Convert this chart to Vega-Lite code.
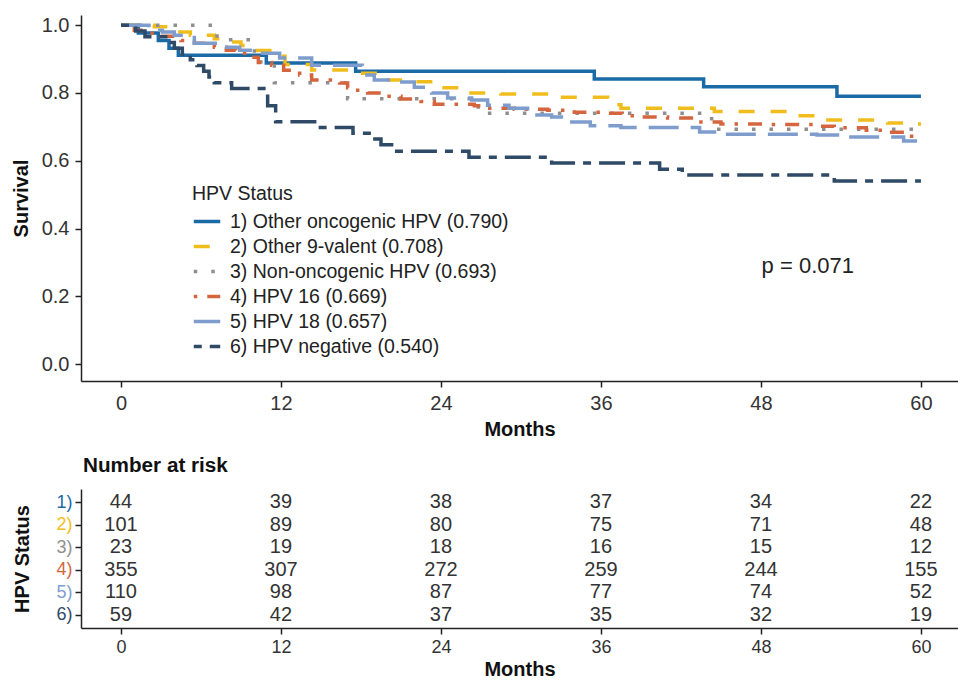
{
  "$schema": "https://vega.github.io/schema/vega-lite/v6.json",
  "padding": {"left": 11, "top": 15, "right": 0, "bottom": 0},
  "autosize": {"type": "pad"},
  "background": "white",
  "bounds": "flush",
  "spacing": 108,
  "config": {
    "font": "Liberation Sans",
    "view": {"stroke": null},
    "axis": {"grid": false, "domainColor": "#222", "tickColor": "#222", "labelColor": "#333", "titleColor": "#111", "labelFont": "Liberation Sans", "titleFont": "Liberation Sans", "domainWidth": 1.5, "tickWidth": 1.5}
  },
  "datasets": {
    "curves": [
      {"g": "1) Other oncogenic HPV (0.790)", "t": 0, "s": 1.0},
      {"g": "1) Other oncogenic HPV (0.790)", "t": 1.3, "s": 0.977},
      {"g": "1) Other oncogenic HPV (0.790)", "t": 2.8, "s": 0.955},
      {"g": "1) Other oncogenic HPV (0.790)", "t": 3.6, "s": 0.932},
      {"g": "1) Other oncogenic HPV (0.790)", "t": 4.3, "s": 0.911},
      {"g": "1) Other oncogenic HPV (0.790)", "t": 10.9, "s": 0.888},
      {"g": "1) Other oncogenic HPV (0.790)", "t": 17.6, "s": 0.864},
      {"g": "1) Other oncogenic HPV (0.790)", "t": 35.5, "s": 0.841},
      {"g": "1) Other oncogenic HPV (0.790)", "t": 43.7, "s": 0.818},
      {"g": "1) Other oncogenic HPV (0.790)", "t": 53.7, "s": 0.79},
      {"g": "1) Other oncogenic HPV (0.790)", "t": 60, "s": 0.79},

      {"g": "2) Other 9-valent (0.708)", "t": 0, "s": 1.0},
      {"g": "2) Other 9-valent (0.708)", "t": 2.5, "s": 0.995},
      {"g": "2) Other 9-valent (0.708)", "t": 4.2, "s": 0.98},
      {"g": "2) Other 9-valent (0.708)", "t": 5.2, "s": 0.97},
      {"g": "2) Other 9-valent (0.708)", "t": 7.0, "s": 0.96},
      {"g": "2) Other 9-valent (0.708)", "t": 7.9, "s": 0.95},
      {"g": "2) Other 9-valent (0.708)", "t": 9.0, "s": 0.94},
      {"g": "2) Other 9-valent (0.708)", "t": 9.8, "s": 0.925},
      {"g": "2) Other 9-valent (0.708)", "t": 11.5, "s": 0.908},
      {"g": "2) Other 9-valent (0.708)", "t": 12.3, "s": 0.884},
      {"g": "2) Other 9-valent (0.708)", "t": 14.3, "s": 0.868},
      {"g": "2) Other 9-valent (0.708)", "t": 16.9, "s": 0.858},
      {"g": "2) Other 9-valent (0.708)", "t": 19.4, "s": 0.838},
      {"g": "2) Other 9-valent (0.708)", "t": 21.5, "s": 0.833},
      {"g": "2) Other 9-valent (0.708)", "t": 23.5, "s": 0.815},
      {"g": "2) Other 9-valent (0.708)", "t": 25.8, "s": 0.8},
      {"g": "2) Other 9-valent (0.708)", "t": 28.5, "s": 0.797},
      {"g": "2) Other 9-valent (0.708)", "t": 32.5, "s": 0.787},
      {"g": "2) Other 9-valent (0.708)", "t": 36.5, "s": 0.765},
      {"g": "2) Other 9-valent (0.708)", "t": 37.5, "s": 0.755},
      {"g": "2) Other 9-valent (0.708)", "t": 44.5, "s": 0.745},
      {"g": "2) Other 9-valent (0.708)", "t": 50.8, "s": 0.733},
      {"g": "2) Other 9-valent (0.708)", "t": 52.2, "s": 0.72},
      {"g": "2) Other 9-valent (0.708)", "t": 57.5, "s": 0.711},
      {"g": "2) Other 9-valent (0.708)", "t": 59.5, "s": 0.708},
      {"g": "2) Other 9-valent (0.708)", "t": 60, "s": 0.708},

      {"g": "3) Non-oncogenic HPV (0.693)", "t": 0, "s": 1.0},
      {"g": "3) Non-oncogenic HPV (0.693)", "t": 7.2, "s": 0.957},
      {"g": "3) Non-oncogenic HPV (0.693)", "t": 10.0, "s": 0.891},
      {"g": "3) Non-oncogenic HPV (0.693)", "t": 11.5, "s": 0.83},
      {"g": "3) Non-oncogenic HPV (0.693)", "t": 17.0, "s": 0.783},
      {"g": "3) Non-oncogenic HPV (0.693)", "t": 26.8, "s": 0.74},
      {"g": "3) Non-oncogenic HPV (0.693)", "t": 44.3, "s": 0.693},
      {"g": "3) Non-oncogenic HPV (0.693)", "t": 60, "s": 0.693},

      {"g": "4) HPV 16 (0.669)", "t": 0, "s": 1.0},
      {"g": "4) HPV 16 (0.669)", "t": 1.0, "s": 0.985},
      {"g": "4) HPV 16 (0.669)", "t": 1.5, "s": 0.976},
      {"g": "4) HPV 16 (0.669)", "t": 3.0, "s": 0.967},
      {"g": "4) HPV 16 (0.669)", "t": 4.0, "s": 0.96},
      {"g": "4) HPV 16 (0.669)", "t": 4.5, "s": 0.955},
      {"g": "4) HPV 16 (0.669)", "t": 5.5, "s": 0.947},
      {"g": "4) HPV 16 (0.669)", "t": 7.0, "s": 0.935},
      {"g": "4) HPV 16 (0.669)", "t": 7.9, "s": 0.926},
      {"g": "4) HPV 16 (0.669)", "t": 8.6, "s": 0.917},
      {"g": "4) HPV 16 (0.669)", "t": 9.5, "s": 0.905},
      {"g": "4) HPV 16 (0.669)", "t": 10.3, "s": 0.89},
      {"g": "4) HPV 16 (0.669)", "t": 11.3, "s": 0.882},
      {"g": "4) HPV 16 (0.669)", "t": 12.2, "s": 0.867},
      {"g": "4) HPV 16 (0.669)", "t": 13.4, "s": 0.853},
      {"g": "4) HPV 16 (0.669)", "t": 14.3, "s": 0.838},
      {"g": "4) HPV 16 (0.669)", "t": 16.4, "s": 0.829},
      {"g": "4) HPV 16 (0.669)", "t": 17.0, "s": 0.815},
      {"g": "4) HPV 16 (0.669)", "t": 17.5, "s": 0.808},
      {"g": "4) HPV 16 (0.669)", "t": 18.5, "s": 0.8},
      {"g": "4) HPV 16 (0.669)", "t": 19.5, "s": 0.79},
      {"g": "4) HPV 16 (0.669)", "t": 21.0, "s": 0.782},
      {"g": "4) HPV 16 (0.669)", "t": 22.5, "s": 0.775},
      {"g": "4) HPV 16 (0.669)", "t": 23.5, "s": 0.767},
      {"g": "4) HPV 16 (0.669)", "t": 26.5, "s": 0.762},
      {"g": "4) HPV 16 (0.669)", "t": 27.5, "s": 0.755},
      {"g": "4) HPV 16 (0.669)", "t": 29.5, "s": 0.752},
      {"g": "4) HPV 16 (0.669)", "t": 32.0, "s": 0.749},
      {"g": "4) HPV 16 (0.669)", "t": 34.0, "s": 0.743},
      {"g": "4) HPV 16 (0.669)", "t": 36.5, "s": 0.74},
      {"g": "4) HPV 16 (0.669)", "t": 37.6, "s": 0.733},
      {"g": "4) HPV 16 (0.669)", "t": 38.5, "s": 0.729},
      {"g": "4) HPV 16 (0.669)", "t": 41.0, "s": 0.726},
      {"g": "4) HPV 16 (0.669)", "t": 43.5, "s": 0.714},
      {"g": "4) HPV 16 (0.669)", "t": 45.0, "s": 0.708},
      {"g": "4) HPV 16 (0.669)", "t": 48.5, "s": 0.707},
      {"g": "4) HPV 16 (0.669)", "t": 52.4, "s": 0.702},
      {"g": "4) HPV 16 (0.669)", "t": 53.5, "s": 0.697},
      {"g": "4) HPV 16 (0.669)", "t": 55.9, "s": 0.69},
      {"g": "4) HPV 16 (0.669)", "t": 57.1, "s": 0.684},
      {"g": "4) HPV 16 (0.669)", "t": 59.0, "s": 0.672},
      {"g": "4) HPV 16 (0.669)", "t": 60, "s": 0.669},

      {"g": "5) HPV 18 (0.657)", "t": 0, "s": 1.0},
      {"g": "5) HPV 18 (0.657)", "t": 2.1, "s": 0.985},
      {"g": "5) HPV 18 (0.657)", "t": 3.1, "s": 0.98},
      {"g": "5) HPV 18 (0.657)", "t": 4.0, "s": 0.97},
      {"g": "5) HPV 18 (0.657)", "t": 5.5, "s": 0.947},
      {"g": "5) HPV 18 (0.657)", "t": 7.5, "s": 0.935},
      {"g": "5) HPV 18 (0.657)", "t": 8.9, "s": 0.926},
      {"g": "5) HPV 18 (0.657)", "t": 10.0, "s": 0.917},
      {"g": "5) HPV 18 (0.657)", "t": 11.9, "s": 0.903},
      {"g": "5) HPV 18 (0.657)", "t": 14.3, "s": 0.882},
      {"g": "5) HPV 18 (0.657)", "t": 18.1, "s": 0.853},
      {"g": "5) HPV 18 (0.657)", "t": 19.0, "s": 0.838},
      {"g": "5) HPV 18 (0.657)", "t": 20.5, "s": 0.832},
      {"g": "5) HPV 18 (0.657)", "t": 22.0, "s": 0.817},
      {"g": "5) HPV 18 (0.657)", "t": 23.3, "s": 0.8},
      {"g": "5) HPV 18 (0.657)", "t": 24.5, "s": 0.785},
      {"g": "5) HPV 18 (0.657)", "t": 26.3, "s": 0.779},
      {"g": "5) HPV 18 (0.657)", "t": 27.5, "s": 0.764},
      {"g": "5) HPV 18 (0.657)", "t": 29.1, "s": 0.755},
      {"g": "5) HPV 18 (0.657)", "t": 30.5, "s": 0.735},
      {"g": "5) HPV 18 (0.657)", "t": 32.3, "s": 0.729},
      {"g": "5) HPV 18 (0.657)", "t": 33.5, "s": 0.714},
      {"g": "5) HPV 18 (0.657)", "t": 35.2, "s": 0.703},
      {"g": "5) HPV 18 (0.657)", "t": 37.5, "s": 0.698},
      {"g": "5) HPV 18 (0.657)", "t": 43.4, "s": 0.685},
      {"g": "5) HPV 18 (0.657)", "t": 45.1, "s": 0.678},
      {"g": "5) HPV 18 (0.657)", "t": 52.2, "s": 0.676},
      {"g": "5) HPV 18 (0.657)", "t": 54.0, "s": 0.67},
      {"g": "5) HPV 18 (0.657)", "t": 58.7, "s": 0.658},
      {"g": "5) HPV 18 (0.657)", "t": 60, "s": 0.657},

      {"g": "6) HPV negative (0.540)", "t": 0, "s": 1.0},
      {"g": "6) HPV negative (0.540)", "t": 1.1, "s": 0.983},
      {"g": "6) HPV negative (0.540)", "t": 1.8, "s": 0.966},
      {"g": "6) HPV negative (0.540)", "t": 3.6, "s": 0.949},
      {"g": "6) HPV negative (0.540)", "t": 4.0, "s": 0.932},
      {"g": "6) HPV negative (0.540)", "t": 4.6, "s": 0.915},
      {"g": "6) HPV negative (0.540)", "t": 5.2, "s": 0.898},
      {"g": "6) HPV negative (0.540)", "t": 5.7, "s": 0.881},
      {"g": "6) HPV negative (0.540)", "t": 6.2, "s": 0.864},
      {"g": "6) HPV negative (0.540)", "t": 6.6, "s": 0.847},
      {"g": "6) HPV negative (0.540)", "t": 7.0, "s": 0.83},
      {"g": "6) HPV negative (0.540)", "t": 8.3, "s": 0.813},
      {"g": "6) HPV negative (0.540)", "t": 11.0, "s": 0.762},
      {"g": "6) HPV negative (0.540)", "t": 11.6, "s": 0.715},
      {"g": "6) HPV negative (0.540)", "t": 14.8, "s": 0.698},
      {"g": "6) HPV negative (0.540)", "t": 17.4, "s": 0.681},
      {"g": "6) HPV negative (0.540)", "t": 18.8, "s": 0.664},
      {"g": "6) HPV negative (0.540)", "t": 19.5, "s": 0.647},
      {"g": "6) HPV negative (0.540)", "t": 20.5, "s": 0.628},
      {"g": "6) HPV negative (0.540)", "t": 26.1, "s": 0.61},
      {"g": "6) HPV negative (0.540)", "t": 32.3, "s": 0.593},
      {"g": "6) HPV negative (0.540)", "t": 40.4, "s": 0.575},
      {"g": "6) HPV negative (0.540)", "t": 42.1, "s": 0.558},
      {"g": "6) HPV negative (0.540)", "t": 53.5, "s": 0.54},
      {"g": "6) HPV negative (0.540)", "t": 60, "s": 0.54}
    ],
    "pval": [{"t": 48.05, "s": 0.288, "label": "p = 0.071"}],
    "risk": [
      {"r": "1)", "t": 0, "n": 44}, {"r": "1)", "t": 12, "n": 39}, {"r": "1)", "t": 24, "n": 38}, {"r": "1)", "t": 36, "n": 37}, {"r": "1)", "t": 48, "n": 34}, {"r": "1)", "t": 60, "n": 22},
      {"r": "2)", "t": 0, "n": 101}, {"r": "2)", "t": 12, "n": 89}, {"r": "2)", "t": 24, "n": 80}, {"r": "2)", "t": 36, "n": 75}, {"r": "2)", "t": 48, "n": 71}, {"r": "2)", "t": 60, "n": 48},
      {"r": "3)", "t": 0, "n": 23}, {"r": "3)", "t": 12, "n": 19}, {"r": "3)", "t": 24, "n": 18}, {"r": "3)", "t": 36, "n": 16}, {"r": "3)", "t": 48, "n": 15}, {"r": "3)", "t": 60, "n": 12},
      {"r": "4)", "t": 0, "n": 355}, {"r": "4)", "t": 12, "n": 307}, {"r": "4)", "t": 24, "n": 272}, {"r": "4)", "t": 36, "n": 259}, {"r": "4)", "t": 48, "n": 244}, {"r": "4)", "t": 60, "n": 155},
      {"r": "5)", "t": 0, "n": 110}, {"r": "5)", "t": 12, "n": 98}, {"r": "5)", "t": 24, "n": 87}, {"r": "5)", "t": 36, "n": 77}, {"r": "5)", "t": 48, "n": 74}, {"r": "5)", "t": 60, "n": 52},
      {"r": "6)", "t": 0, "n": 59}, {"r": "6)", "t": 12, "n": 42}, {"r": "6)", "t": 24, "n": 37}, {"r": "6)", "t": 36, "n": 35}, {"r": "6)", "t": 48, "n": 32}, {"r": "6)", "t": 60, "n": 19}
    ]
  },
  "vconcat": [
    {
      "width": 877,
      "height": 366,
      "layer": [
        {
          "data": {"name": "curves"},
          "mark": {"type": "line", "interpolate": "step-after", "strokeWidth": 3.5, "strokeCap": "butt", "clip": true},
          "encoding": {
            "x": {"field": "t", "type": "quantitative", "scale": {"domain": [-3, 62.78], "nice": false, "zero": false},
              "axis": {"values": [0, 12, 24, 36, 48, 60], "title": "Months", "labelFontSize": 20, "titleFontSize": 20, "titleFontWeight": "bold", "tickSize": 6, "labelPadding": 6, "titlePadding": 6}},
            "y": {"field": "s", "type": "quantitative", "scale": {"domain": [-0.05, 1.03], "nice": false, "zero": false},
              "axis": {"values": [0, 0.2, 0.4, 0.6, 0.8, 1.0], "format": ".1f", "title": "Survival", "labelFontSize": 20, "titleFontSize": 20, "titleFontWeight": "bold", "tickSize": 6, "labelPadding": 6, "titleX": -60, "titleBaseline": "middle", "titleAngle": 270}},
            "color": {"field": "g", "type": "nominal",
              "scale": {"domain": ["1) Other oncogenic HPV (0.790)", "2) Other 9-valent (0.708)", "3) Non-oncogenic HPV (0.693)", "4) HPV 16 (0.669)", "5) HPV 18 (0.657)", "6) HPV negative (0.540)"],
                "range": ["#1A6AA6", "#F0BD1C", "#8F8F8F", "#D5653F", "#7E9DCC", "#2F4A66"]},
              "legend": {"title": "HPV Status", "orient": "none", "legendX": 111, "legendY": 170, "symbolType": "stroke", "symbolSize": 700, "symbolStrokeWidth": 3.5, "labelFontSize": 19.5, "titleFontSize": 19.5, "titleFontWeight": "normal", "labelColor": "#222", "titleColor": "#222", "rowPadding": -2, "titlePadding": 2, "labelOffset": 8, "labelLimit": 400}},
            "strokeDash": {"field": "g", "type": "nominal",
              "scale": {"domain": ["1) Other oncogenic HPV (0.790)", "2) Other 9-valent (0.708)", "3) Non-oncogenic HPV (0.693)", "4) HPV 16 (0.669)", "5) HPV 18 (0.657)", "6) HPV negative (0.540)"],
                "range": [[1, 0], [16, 16], [3.5, 14], [3.5, 10, 14, 10], [30, 12], [8, 8, 26, 8]]},
              "legend": {"title": "HPV Status", "orient": "none", "legendX": 111, "legendY": 170, "symbolType": "stroke", "symbolSize": 700, "symbolStrokeWidth": 3.5, "labelFontSize": 19.5, "titleFontSize": 19.5, "titleFontWeight": "normal", "labelColor": "#222", "titleColor": "#222", "rowPadding": -2, "titlePadding": 2, "labelOffset": 8, "labelLimit": 400}}
          }
        },
        {
          "data": {"name": "pval"},
          "mark": {"type": "text", "align": "left", "baseline": "middle", "fontSize": 22, "color": "#222"},
          "encoding": {
            "x": {"field": "t", "type": "quantitative"},
            "y": {"field": "s", "type": "quantitative"},
            "text": {"field": "label"}
          }
        }
      ]
    },
    {
      "width": 877,
      "height": 139,
      "data": {"name": "risk"},
      "title": {"text": "Number at risk", "anchor": "start", "frame": "group", "fontSize": 20.7, "fontWeight": "bold", "color": "#111", "baseline": "alphabetic", "offset": -4, "dx": 2},
      "mark": {"type": "text", "fontSize": 20, "color": "#333", "baseline": "middle"},
      "encoding": {
        "x": {"field": "t", "type": "quantitative", "scale": {"domain": [-3, 62.78], "nice": false, "zero": false},
          "axis": {"values": [0, 12, 24, 36, 48, 60], "title": "Months", "labelFontSize": 18, "titleFontSize": 20, "titleFontWeight": "bold", "tickSize": 6, "labelPadding": 4, "titlePadding": 3}},
        "y": {"field": "r", "type": "ordinal", "scale": {"type": "point", "padding": 0.6, "domain": ["1)", "2)", "3)", "4)", "5)", "6)"]},
          "axis": {"title": "HPV Status", "labelFontSize": 18, "titleFontSize": 20, "titleFontWeight": "bold", "tickSize": 6, "labelPadding": 3, "titleX": -59, "titleBaseline": "middle", "titleAngle": 270,
            "labelColor": {"condition": [
              {"test": "datum.value === '1)'", "value": "#1A6AA6"},
              {"test": "datum.value === '2)'", "value": "#F0BD1C"},
              {"test": "datum.value === '3)'", "value": "#8F8F8F"},
              {"test": "datum.value === '4)'", "value": "#D5653F"},
              {"test": "datum.value === '5)'", "value": "#7E9DCC"}
            ], "value": "#2F4A66"}}},
        "text": {"field": "n", "type": "quantitative"}
      }
    }
  ]
}
